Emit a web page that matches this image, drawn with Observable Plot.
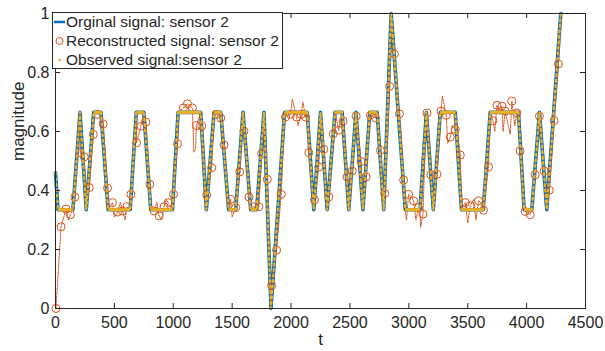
<!DOCTYPE html>
<html><head><meta charset="utf-8">
<script src="https://cdn.jsdelivr.net/npm/d3@7"></script>
<script src="https://cdn.jsdelivr.net/npm/@observablehq/plot@0.6"></script>
<style>
body{margin:0;background:#fff;}
#wrap{position:relative;width:605px;height:351px;font-family:"Liberation Sans",Arial,sans-serif;}
#legend{position:absolute;left:52px;top:12px;}
</style></head>
<body><div id="wrap"></div>
<script>
// Original signal vertices (t, magnitude)
const origT = [0, 21, 148, 208, 261, 324, 386, 447, 634, 686, 750, 809, 993, 1041, 1233, 1281, 1346, 1403, 1470, 1530, 1592, 1657, 1708, 1770, 1830, 1945, 2137, 2193, 2250, 2307, 2373, 2434, 2490, 2551, 2610, 2668, 2731, 2787, 2850, 2970, 3095, 3149, 3208, 3267, 3394, 3447, 3632, 3691, 3931, 3979, 4044, 4109, 4171, 4290];
const origV = [0.46, 0.335, 0.335, 0.665, 0.335, 0.665, 0.665, 0.335, 0.335, 0.665, 0.665, 0.335, 0.335, 0.665, 0.665, 0.335, 0.665, 0.665, 0.335, 0.335, 0.665, 0.335, 0.335, 0.665, 0.0, 0.665, 0.665, 0.335, 0.665, 0.335, 0.665, 0.665, 0.335, 0.665, 0.335, 0.665, 0.665, 0.335, 1.0, 0.335, 0.335, 0.665, 0.335, 0.665, 0.665, 0.335, 0.335, 0.665, 0.665, 0.335, 0.335, 0.665, 0.335, 1.0];

// Reconstructed signal: circle-marked samples
const circT = [4, 47, 89, 126, 165, 210, 244, 287, 321, 357, 405, 442, 484, 527, 569, 606, 640, 688, 725, 767, 801, 837, 880, 922, 956, 1002, 1036, 1086, 1120, 1162, 1196, 1242, 1284, 1326, 1366, 1403, 1431, 1487, 1530, 1564, 1600, 1643, 1685, 1727, 1750, 1798, 1835, 1877, 1917, 1953, 1996, 2047, 2086, 2123, 2151, 2199, 2236, 2278, 2321, 2358, 2405, 2442, 2476, 2519, 2553, 2595, 2637, 2674, 2716, 2759, 2795, 2837, 2877, 2920, 2956, 2998, 3041, 3083, 3120, 3154, 3188, 3239, 3273, 3318, 3352, 3394, 3437, 3479, 3521, 3592, 3634, 3676, 3714, 3748, 3790, 3818, 3875, 3917, 3945, 3987, 4030, 4072, 4109, 4149, 4193, 4233, 4270];
const circV = [0, 0.277, 0.337, 0.318, 0.378, 0.528, 0.514, 0.41, 0.59, 0.658, 0.626, 0.408, 0.359, 0.327, 0.331, 0.345, 0.387, 0.562, 0.618, 0.632, 0.421, 0.331, 0.314, 0.345, 0.359, 0.387, 0.558, 0.68, 0.694, 0.68, 0.62, 0.618, 0.384, 0.477, 0.658, 0.646, 0.554, 0.37, 0.342, 0.463, 0.601, 0.378, 0.345, 0.345, 0.525, 0.438, 0.078, 0.198, 0.387, 0.649, 0.658, 0.649, 0.658, 0.649, 0.528, 0.368, 0.48, 0.54, 0.378, 0.592, 0.604, 0.635, 0.446, 0.466, 0.652, 0.498, 0.446, 0.655, 0.646, 0.536, 0.39, 0.753, 0.863, 0.66, 0.435, 0.387, 0.365, 0.342, 0.32, 0.663, 0.453, 0.455, 0.669, 0.655, 0.581, 0.607, 0.52, 0.359, 0.348, 0.365, 0.333, 0.48, 0.637, 0.689, 0.686, 0.669, 0.703, 0.663, 0.534, 0.329, 0.318, 0.453, 0.652, 0.466, 0.401, 0.637, 0.829];

// Reconstructed signal: unmarked noisy samples between the circles
const spikeT = [70, 110, 500, 550, 590, 860, 900, 940, 1175, 1190, 1500, 2010, 2060, 2100, 2980, 3020, 3060, 3100, 3285, 3330, 3370, 3500, 3550, 3570, 3610, 3730, 3770, 3800, 3840, 3860, 3900, 4170, 4290];
const spikeV = [0.31, 0.30, 0.31, 0.36, 0.30, 0.36, 0.30, 0.37, 0.53, 0.54, 0.31, 0.71, 0.62, 0.70, 0.30, 0.38, 0.30, 0.275, 0.72, 0.56, 0.62, 0.29, 0.37, 0.30, 0.36, 0.60, 0.66, 0.60, 0.63, 0.59, 0.62, 0.37, 0.98];

const xTicks = [0, 500, 1000, 1500, 2000, 2500, 3000, 3500, 4000, 4500];
const yTicks = [0, 0.2, 0.4, 0.6, 0.8, 1];
const legendLabels = ["Orginal signal: sensor 2", "Reconstructed signal: sensor 2", "Observed signal:sensor 2"];
const colors = ["#0072BD", "#D95319", "#EDB120"];

const orig = origT.map((t, i) => ({t, v: origV[i]}));
const circ = circT.map((t, i) => ({t, v: circV[i]}));
const spikes = spikeT.map((t, i) => ({t, v: spikeV[i]}));
// reconstructed line follows the original corners, circles and noise samples
const rec = [...circ, ...spikes, ...orig.slice(2)].sort((a, b) => a.t - b.t);
const plateaus = [];
for (let i = 0; i < orig.length - 1; i++) if (orig[i].v === orig[i + 1].v) plateaus.push({a: orig[i], b: orig[i + 1]});

const W = 605, H = 351, mL = 55, mR = 20, mT = 13, mB = 43;
const pW = W - mL - mR, pH = H - mT - mB;
const ink = "#262626";

const chart = Plot.plot({
  width: W, height: H, marginLeft: mL, marginRight: mR, marginTop: mT, marginBottom: mB,
  style: {fontFamily: "'Liberation Sans', Arial, sans-serif", fontSize: "16px", color: ink, background: "#fff", overflow: "visible"},
  x: {domain: [0, 4500]},
  y: {domain: [0, 1]},
  marks: [
    Plot.line(orig, {x: "t", y: "v", stroke: colors[0], strokeWidth: 3.6}),
    Plot.line(rec, {x: "t", y: "v", stroke: colors[1], strokeWidth: 1, strokeDasharray: "1.5,1.2"}),
    Plot.dot(circ, {x: "t", y: "v", r: 4, stroke: colors[1], strokeWidth: 1, fill: "none"}),
    Plot.line(orig, {x: "t", y: "v", stroke: colors[2], strokeWidth: 2.2, strokeDasharray: "2,3.5"}),
    Plot.link(plateaus, {x1: d => d.a.t, y1: d => d.a.v, x2: d => d.b.t, y2: d => d.b.v, stroke: colors[2], strokeWidth: 3}),
    Plot.frame({stroke: ink, strokeWidth: 1}),
    Plot.tickX(xTicks, {x: d => d, insetTop: pH - 5, stroke: ink}),
    Plot.tickX(xTicks, {x: d => d, insetBottom: pH - 5, stroke: ink}),
    Plot.tickY(yTicks, {y: d => d, insetRight: pW - 5, stroke: ink}),
    Plot.tickY(yTicks, {y: d => d, insetLeft: pW - 5, stroke: ink}),
    Plot.axisX(xTicks, {tickSize: 0, tickPadding: 8, tickFormat: d => String(d), label: null}),
    Plot.axisY(yTicks, {tickSize: 0, tickPadding: 6, tickFormat: d => String(+d.toFixed(1)), label: null}),
    Plot.text(["t"], {frameAnchor: "bottom", dy: 36, fontSize: 17, fill: ink}),
    Plot.text(["magnitude"], {frameAnchor: "left", dx: -37, rotate: -90, fontSize: 17, fill: ink})
  ]
});
const wrap = document.getElementById("wrap");
wrap.appendChild(chart);

// legend
const lw = 231, lh = 57;
const ls = d3.select(wrap).append("svg").attr("id", "legend").attr("width", lw).attr("height", lh);
ls.append("rect").attr("x", 0.5).attr("y", 0.5).attr("width", lw - 1).attr("height", lh - 1).attr("fill", "#fff").attr("stroke", ink).attr("stroke-width", 1);
const rows = [10, 29, 48];
ls.append("line").attr("x1", 2).attr("x2", 13).attr("y1", rows[0]).attr("y2", rows[0]).attr("stroke", colors[0]).attr("stroke-width", 2.5);
ls.append("circle").attr("cx", 7.5).attr("cy", rows[1]).attr("r", 3.5).attr("fill", "none").attr("stroke", colors[1]).attr("stroke-width", 1);
ls.append("circle").attr("cx", 7.5).attr("cy", rows[2]).attr("r", 1.3).attr("fill", colors[2]);
legendLabels.forEach((s, i) => {
  ls.append("text").attr("x", 14).attr("y", rows[i]).attr("dy", "0.35em").attr("font-size", 15.5).attr("fill", ink).text(s);
});
</script></body></html>
